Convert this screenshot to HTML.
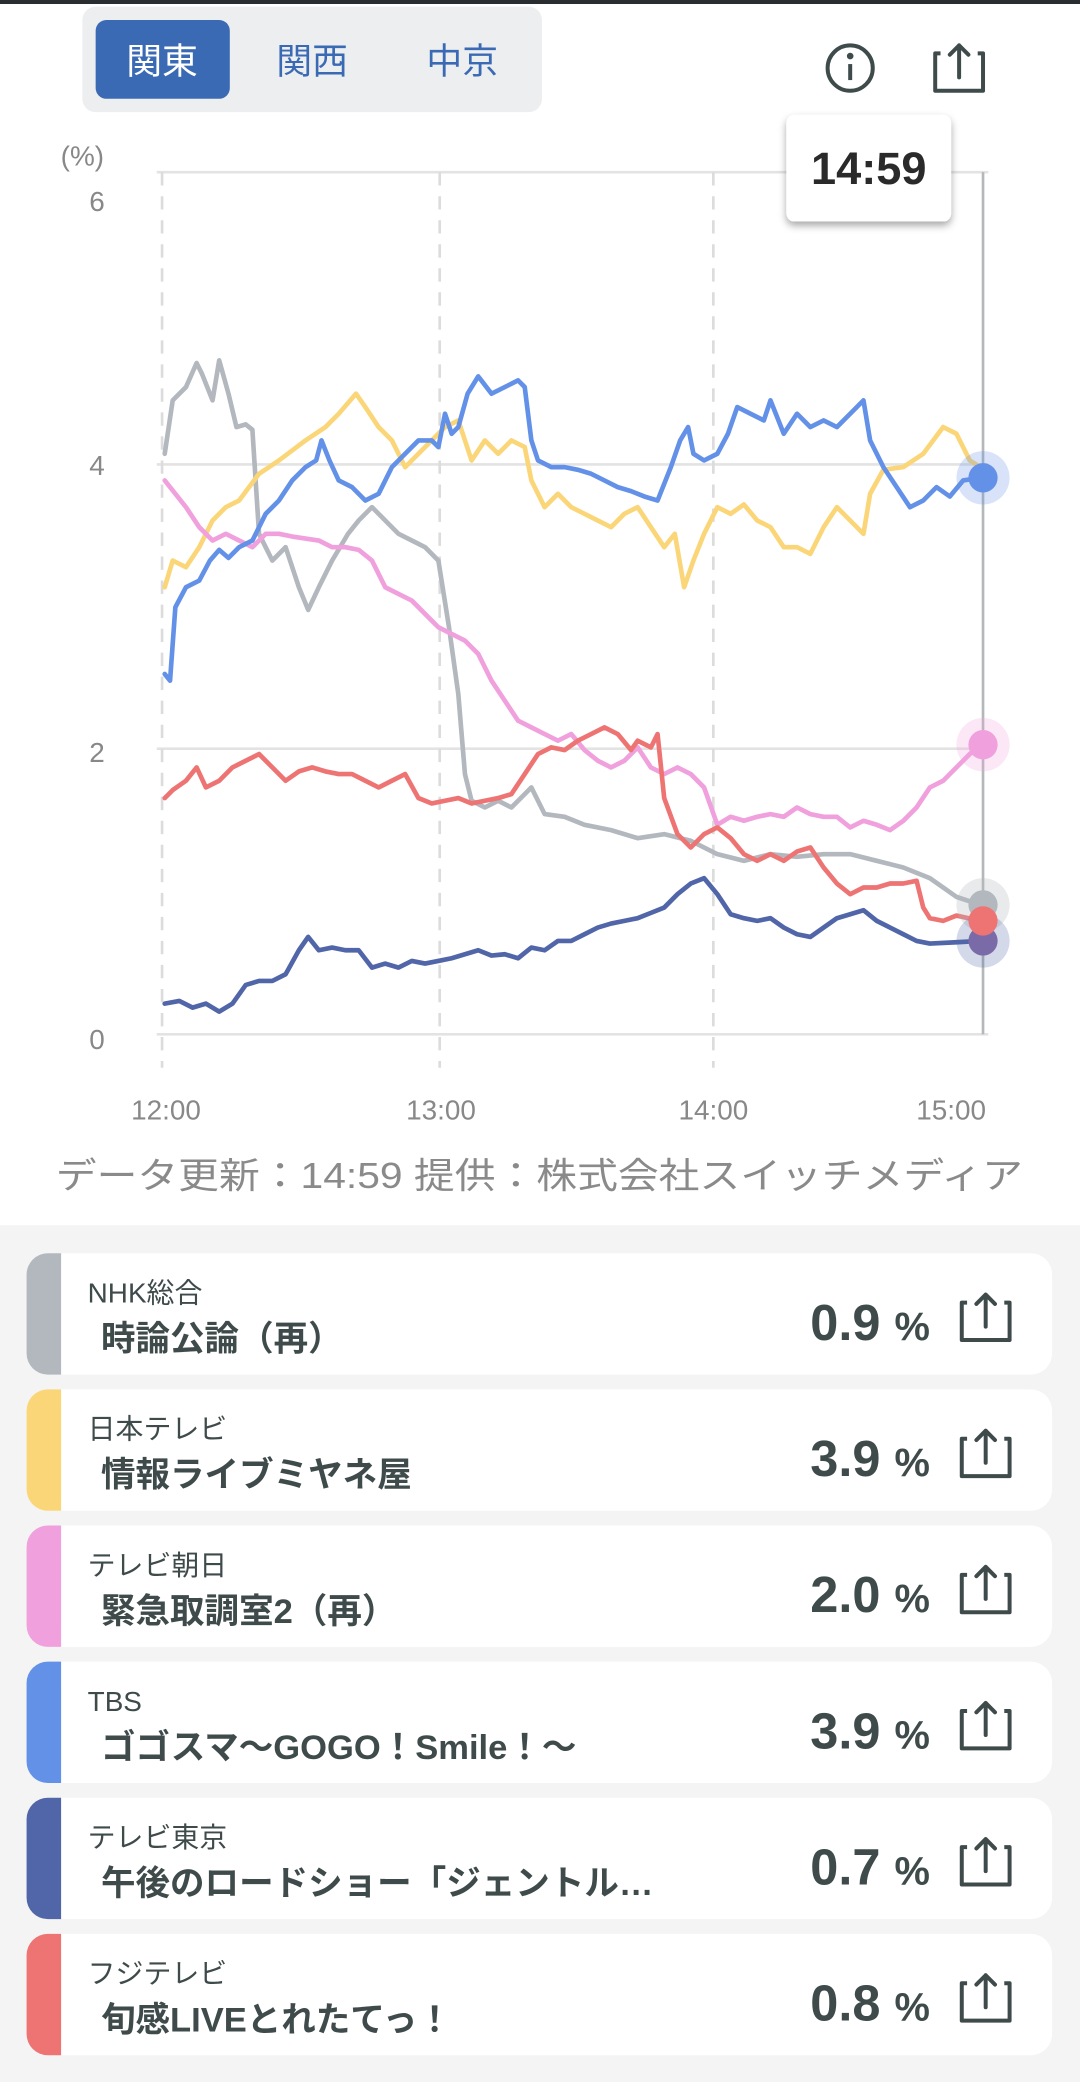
<!DOCTYPE html>
<html><head><meta charset="utf-8"><style>
html,body{margin:0;padding:0;background:#fff;width:1080px;height:2082px;overflow:hidden}
svg{display:block}
text{font-family:"Liberation Sans","Noto Sans CJK JP",sans-serif}
</style></head><body>
<svg width="1080" height="2082" viewBox="0 0 813 1560" preserveAspectRatio="none" xmlns="http://www.w3.org/2000/svg">
<defs>
<filter id="sh" x="-20%" y="-20%" width="140%" height="150%"><feDropShadow dx="0" dy="3" stdDeviation="3" flood-color="#000" flood-opacity="0.35"/></filter>
<g id="share"><path d="M-14,-12 h-4 v28 h36 v-28 h-4" fill="none" stroke="#3f4b4b" stroke-width="3" stroke-linejoin="round"/><path d="M0,6 V-18 M-7,-11 L0,-18 L7,-11" fill="none" stroke="#3f4b4b" stroke-width="3" stroke-linecap="round" stroke-linejoin="round"/></g>
</defs>
<rect x="0" y="0" width="813" height="3" fill="#2a2d30"/>
<rect x="62" y="5" width="346" height="79" rx="10" fill="#eceeef"/>
<rect x="72" y="15" width="101" height="59" rx="8" fill="#3b6ab5"/>
<text x="122" y="55" font-size="27" fill="#fff" text-anchor="middle">関東</text>
<text x="235" y="55" font-size="27" fill="#3b6ab5" text-anchor="middle">関西</text>
<text x="348" y="55" font-size="27" fill="#3b6ab5" text-anchor="middle">中京</text>
<circle cx="640" cy="51" r="17" fill="none" stroke="#3f4b4b" stroke-width="3"/>
<circle cx="640" cy="42" r="2.5" fill="#3f4b4b"/><rect x="638.5" y="48" width="3" height="12" fill="#3f4b4b"/>
<use href="#share" x="722" y="52"/>
<g stroke="#e3e3e3" stroke-width="2">
<line x1="118" y1="129" x2="744" y2="129"/><line x1="118" y1="348" x2="744" y2="348"/><line x1="118" y1="561" x2="744" y2="561"/><line x1="118" y1="775" x2="744" y2="775"/>
</g>
<g stroke="#dcdcdc" stroke-width="2" stroke-dasharray="10,8">
<line x1="122" y1="129" x2="122" y2="800"/><line x1="331" y1="129" x2="331" y2="800"/><line x1="537" y1="129" x2="537" y2="800"/>
</g>
<line x1="740" y1="129" x2="740" y2="775" stroke="#b5b8ba" stroke-width="2"/>
<g font-size="21" fill="#888" text-anchor="middle">
<text x="62" y="124">(%)</text><text x="73" y="158">6</text><text x="73" y="356">4</text><text x="73" y="571">2</text><text x="73" y="786">0</text>
<text x="125" y="839">12:00</text><text x="332" y="839">13:00</text><text x="537" y="839">14:00</text><text x="716" y="839">15:00</text>
</g>
<g fill="none" stroke-width="3.5" stroke-linejoin="round" stroke-linecap="round">
<polyline stroke="#b3b8bf" points="124,340 130,300 140,290 148,272 152,280 160,300 165,270 172,295 178,320 185,318 190,322 195,400 205,420 215,410 225,440 232,457 240,440 250,420 262,400 270,390 280,380 290,390 300,400 310,405 320,410 330,420 338,470 345,520 350,580 355,600 365,605 375,600 385,605 395,595 400,590 410,610 425,612 440,618 460,622 480,628 500,625 520,630 540,640 560,645 580,640 600,642 620,640 640,640 660,645 680,650 700,658 720,672 738,678"/>
<polyline stroke="#fbd679" points="124,440 130,420 140,425 150,410 160,390 170,380 180,375 195,355 210,345 230,330 245,320 255,310 268,295 275,305 285,320 295,330 305,350 315,340 325,330 335,320 345,315 355,345 365,330 375,340 385,330 395,335 400,360 410,380 420,370 430,380 440,385 450,390 460,395 470,385 480,380 490,395 500,410 508,400 515,440 522,420 530,400 540,380 550,385 560,378 570,390 580,395 590,410 600,410 610,415 620,395 630,380 640,390 650,400 655,370 665,352 680,350 695,340 710,320 720,325 730,345 738,350"/>
<polyline stroke="#f0a0dc" points="124,360 132,370 140,380 150,395 160,405 170,400 180,405 190,410 200,400 210,400 220,402 240,405 250,410 260,410 270,412 280,420 290,440 300,445 310,450 320,460 330,470 340,475 350,480 360,490 370,510 380,525 390,540 400,545 410,550 420,555 430,550 440,562 450,570 460,575 470,570 480,560 490,575 500,580 510,575 520,580 530,590 540,618 550,612 560,615 570,612 580,610 590,612 600,605 610,610 620,612 630,612 640,620 650,615 660,618 670,622 680,615 690,605 700,590 710,585 720,575 730,565 738,558"/>
<polyline stroke="#6491e8" points="124,505 128,510 132,455 140,440 150,435 158,420 165,412 172,418 180,410 190,405 200,385 210,375 220,360 230,350 238,345 242,330 248,345 255,360 265,365 275,375 285,370 295,350 305,340 315,330 325,330 330,335 335,310 340,325 345,320 352,295 360,282 370,295 380,290 390,285 395,290 400,330 405,345 415,350 425,350 435,352 445,355 455,360 465,365 475,368 485,372 495,375 505,350 512,330 518,320 522,340 530,345 540,340 548,325 555,305 565,310 575,315 580,300 590,325 600,310 610,320 620,315 630,320 640,310 650,300 655,330 665,350 675,365 685,380 695,375 705,365 715,372 725,360 738,358"/>
<polyline stroke="#5166a8" points="124,752 135,750 145,755 155,752 165,758 175,752 185,738 195,735 205,735 215,730 225,712 232,702 240,712 250,710 260,712 270,712 280,725 290,722 300,725 310,720 320,722 330,720 340,718 350,715 360,712 370,716 380,715 390,718 400,710 410,712 420,705 430,705 440,700 450,695 460,692 470,690 480,688 490,684 500,680 510,670 520,662 530,658 540,670 550,685 560,688 570,690 580,688 590,695 600,700 610,702 620,695 630,688 640,685 650,682 660,690 670,695 680,700 690,705 700,707 720,706 738,705"/>
<polyline stroke="#ee7474" points="124,598 130,592 140,585 148,575 155,590 165,585 175,575 185,570 195,565 205,575 215,585 225,578 235,575 245,578 255,580 265,580 275,585 285,590 295,585 305,580 315,598 325,602 335,600 345,598 355,602 365,600 375,598 385,595 395,580 405,565 415,560 425,562 435,555 445,550 455,545 465,550 475,562 480,555 490,560 495,550 500,598 510,625 520,635 530,625 540,620 550,628 560,640 570,645 580,640 590,645 600,638 610,635 620,650 630,662 640,670 650,665 660,665 670,662 680,662 690,660 695,680 700,688 710,690 720,686 738,690"/>
</g>
<circle cx="740" cy="358" r="20" fill="#6491e8" opacity="0.25"/><circle cx="740" cy="358" r="11" fill="#6491e8"/>
<circle cx="740" cy="558" r="20" fill="#f0a0dc" opacity="0.25"/><circle cx="740" cy="558" r="11" fill="#f0a0dc"/>
<circle cx="740" cy="678" r="20" fill="#b3b8bf" opacity="0.3"/><circle cx="740" cy="678" r="11" fill="#b3b8bf"/>
<circle cx="740" cy="705" r="20" fill="#5166a8" opacity="0.25"/><circle cx="740" cy="705" r="11" fill="#7a6aa8"/>
<circle cx="740" cy="690" r="11" fill="#ee7474"/>
<rect x="592" y="86" width="124" height="80" rx="6" fill="#fff" filter="url(#sh)"/>
<text x="654" y="138" font-size="34" font-weight="bold" fill="#2a2a2a" text-anchor="middle">14:59</text>
<text x="42" y="890" font-size="27" fill="#8a8a8a" textLength="728" lengthAdjust="spacingAndGlyphs">データ更新：14:59 提供：株式会社スイッチメディア</text>
<rect x="0" y="918" width="813" height="642" fill="#f3f4f3"/>
<g>
<g transform="translate(0,939)"><rect x="20" y="0" width="772" height="91" rx="16" fill="#fff"/><path d="M36,0 h10 v91 h-10 a16,16 0 0 1 -16,-16 v-59 a16,16 0 0 1 16,-16z" fill="#b3b8bf"/></g>
<g transform="translate(0,1041)"><rect x="20" y="0" width="772" height="91" rx="16" fill="#fff"/><path d="M36,0 h10 v91 h-10 a16,16 0 0 1 -16,-16 v-59 a16,16 0 0 1 16,-16z" fill="#fbd679"/></g>
<g transform="translate(0,1143)"><rect x="20" y="0" width="772" height="91" rx="16" fill="#fff"/><path d="M36,0 h10 v91 h-10 a16,16 0 0 1 -16,-16 v-59 a16,16 0 0 1 16,-16z" fill="#f0a0dc"/></g>
<g transform="translate(0,1245)"><rect x="20" y="0" width="772" height="91" rx="16" fill="#fff"/><path d="M36,0 h10 v91 h-10 a16,16 0 0 1 -16,-16 v-59 a16,16 0 0 1 16,-16z" fill="#6491e8"/></g>
<g transform="translate(0,1347)"><rect x="20" y="0" width="772" height="91" rx="16" fill="#fff"/><path d="M36,0 h10 v91 h-10 a16,16 0 0 1 -16,-16 v-59 a16,16 0 0 1 16,-16z" fill="#5166a8"/></g>
<g transform="translate(0,1449)"><rect x="20" y="0" width="772" height="91" rx="16" fill="#fff"/><path d="M36,0 h10 v91 h-10 a16,16 0 0 1 -16,-16 v-59 a16,16 0 0 1 16,-16z" fill="#ee7474"/></g>
</g>
<g fill="#3f4b4b">
<g font-size="21"><text x="66" y="976">NHK総合</text><text x="66" y="1078">日本テレビ</text><text x="66" y="1180">テレビ朝日</text><text x="66" y="1282">TBS</text><text x="66" y="1384">テレビ東京</text><text x="66" y="1486">フジテレビ</text></g>
<g font-size="26" font-weight="bold"><text x="76" y="1012">時論公論（再）</text><text x="76" y="1114">情報ライブミヤネ屋</text><text x="76" y="1216">緊急取調室2（再）</text><text x="76" y="1318">ゴゴスマ〜GOGO！Smile！〜</text><text x="76" y="1420">午後のロードショー「ジェントル…</text><text x="76" y="1522">旬感LIVEとれたてっ！</text></g>
<g font-size="38" font-weight="bold" text-anchor="end"><text x="700" y="1004">0.9 <tspan font-size="30">%</tspan></text><text x="700" y="1106">3.9 <tspan font-size="30">%</tspan></text><text x="700" y="1208">2.0 <tspan font-size="30">%</tspan></text><text x="700" y="1310">3.9 <tspan font-size="30">%</tspan></text><text x="700" y="1412">0.7 <tspan font-size="30">%</tspan></text><text x="700" y="1514">0.8 <tspan font-size="30">%</tspan></text></g>
</g>
<use href="#share" x="742" y="988"/><use href="#share" x="742" y="1090"/><use href="#share" x="742" y="1192"/><use href="#share" x="742" y="1294"/><use href="#share" x="742" y="1396"/><use href="#share" x="742" y="1498"/>
</svg>
</body></html>
